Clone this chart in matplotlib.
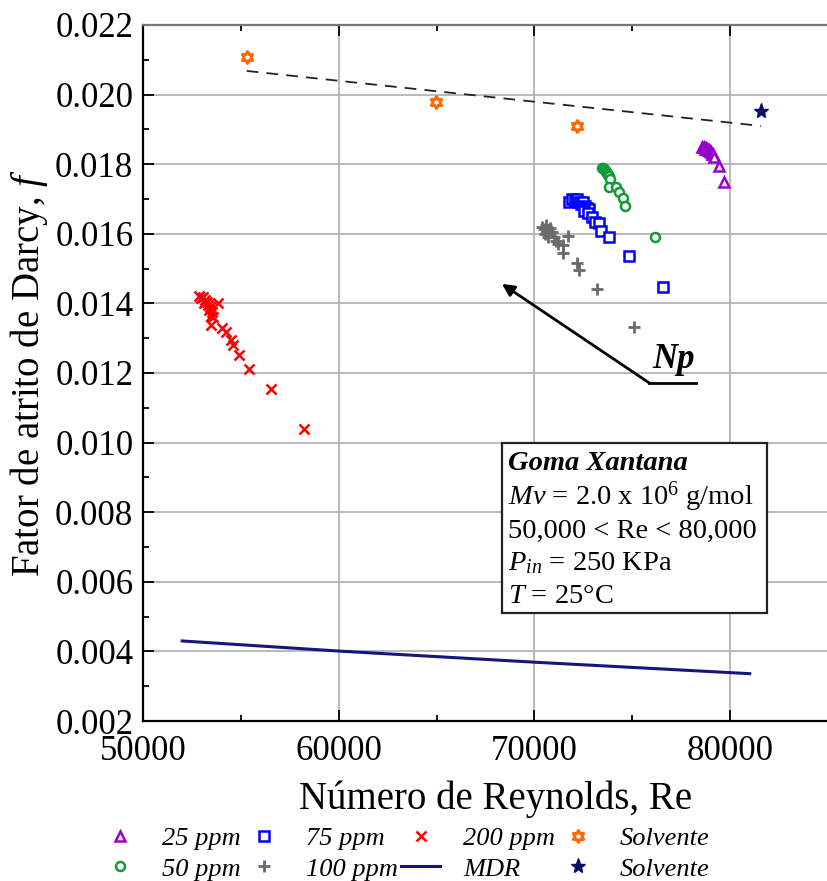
import numpy as np
import matplotlib
matplotlib.use("Agg")
import matplotlib.pyplot as plt
from matplotlib.path import Path
from matplotlib.lines import Line2D
from matplotlib.patches import Rectangle

plt.rcParams['font.family'] = ['Liberation Serif', 'DejaVu Serif']
plt.rcParams['mathtext.fontset'] = 'custom'
plt.rcParams['mathtext.rm'] = 'Liberation Serif'
plt.rcParams['mathtext.it'] = 'Liberation Serif:italic'
plt.rcParams['mathtext.bf'] = 'Liberation Serif:bold'

# ---------------- data ----------------
re_25 = [78550, 78650, 78700, 78750, 78800, 78850, 78900, 78950, 79000, 79050, 79100, 79200, 79450, 79700]
f_25 = [0.01850, 0.01848, 0.01845, 0.01847, 0.01843, 0.01840, 0.01842, 0.01838, 0.01835, 0.01830, 0.01828, 0.01822, 0.01795, 0.01749]

re_50 = [73450, 73500, 73550, 73600, 73650, 73700, 73750, 73800, 73850, 73820, 74170, 74320, 74520, 74620, 76180]
f_50 = [0.01790, 0.01788, 0.01785, 0.01782, 0.01778, 0.01775, 0.01770, 0.01765, 0.01758, 0.01735, 0.01734, 0.01720, 0.01703, 0.01680, 0.01590]

re_75 = [71750, 71900, 72050, 72200, 72300, 72400, 72500, 72600, 72700, 72800, 72550, 72750, 72965, 73116, 73317, 73417, 73819, 74824, 76583]
f_75 = [0.01690, 0.01700, 0.01695, 0.01700, 0.01690, 0.01685, 0.01690, 0.01680, 0.01675, 0.01670, 0.01665, 0.01660, 0.01648, 0.01634, 0.01631, 0.01608, 0.01591, 0.01536, 0.01447]

re_100 = [70400, 70500, 70600, 70700, 70550, 70800, 70900, 71000, 70700, 71100, 71200, 71700, 71450, 71450, 72200, 72300, 73200, 75070]
f_100 = [0.01620, 0.01615, 0.01625, 0.01610, 0.01600, 0.01618, 0.01605, 0.01590, 0.01590, 0.01580, 0.01570, 0.01595, 0.01568, 0.01545, 0.01516, 0.01496, 0.01440, 0.01332]

re_200 = [52850, 52950, 53050, 53150, 53250, 53100, 53300, 53400, 53350, 53500, 53450, 53600, 53819, 53467, 54020, 54221, 54472, 54623, 54925, 55427, 56533, 58241]
f_200 = [0.01420, 0.01415, 0.01418, 0.01410, 0.01405, 0.01400, 0.01395, 0.01390, 0.01380, 0.01375, 0.01365, 0.01360, 0.01401, 0.01338, 0.01329, 0.01318, 0.01295, 0.01280, 0.01252, 0.01211, 0.01154, 0.01039]

re_solv = [55315, 64990, 72160]
f_solv = [0.02108, 0.01978, 0.01910]

re_solv2 = [81570]
f_solv2 = [0.01954]

re_fit = [55300, 81570]
f_fit = [0.02068, 0.01910]

re_mdr = [52000, 60000, 70000, 81000]
f_mdr = [0.00430, 0.00401, 0.00369, 0.00336]

legend_labels = ['25 ppm', '50 ppm', '75 ppm', '100 ppm', '200 ppm', 'MDR', 'Solvente', 'Solvente']

# annotation positions
arrow_corner = (75879, 0.01171)
arrow_tail_end = (78241, 0.01171)
arrow_head = (68342, 0.01456)
np_label_pos = (77100, 0.01240)

# ---------------- figure ----------------
W, H = 828, 881
fig = plt.figure(figsize=(W / 100, H / 100), dpi=100)
axL, axR, axT, axB = 143, 828, 25, 721
ax = fig.add_axes([axL / W, 1 - axB / H, (axR - axL) / W, (axB - axT) / H])

ax.set_xlim(50000, 50000 + (axR - axL) / 19.9 * 1000)
ax.set_ylim(0.002, 0.022)
ax.set_xticks(np.arange(50000, 80001, 10000))
ax.set_xticks(np.arange(50000, 85001, 5000), minor=True)
ax.set_yticks(np.arange(0.002, 0.0221, 0.002))
ax.set_yticks(np.arange(0.002, 0.0221, 0.001), minor=True)
ax.yaxis.set_major_formatter(matplotlib.ticker.FormatStrFormatter('%.3f'))
ax.grid(True, which='major', color='#b4b4b4', lw=1.3)
ax.set_axisbelow(True)
ax.tick_params(which='both', direction='in', top=True, right=False, labelsize=25, width=1.3)
ax.tick_params(which='major', length=8)
ax.tick_params(which='minor', length=4)
ax.tick_params(axis='y', pad=7)
ax.tick_params(axis='x', pad=10)
for s in ['left', 'bottom']:
    ax.spines[s].set_linewidth(1.6)
    ax.spines[s].set_color('black')
ax.spines['top'].set_color('#777777')
ax.spines['top'].set_linewidth(1.6)
ax.spines['right'].set_visible(False)

ax.set_xlabel('Número de Reynolds, Re', fontsize=28)
ax.set_ylabel('Fator de atrito de Darcy, $f$', fontsize=28)
ax.xaxis.set_label_coords(0.514, -0.086)
ax.yaxis.set_label_coords(-0.136, 0.5)

# hexagram marker
ang = np.pi / 2 + np.arange(12) * np.pi / 6
rad = np.where(np.arange(12) % 2 == 0, 1.0, 1 / np.sqrt(3))
verts = np.column_stack([rad * np.cos(ang), rad * np.sin(ang)])
verts = np.vstack([verts, verts[:1]])
hexagram = Path(verts, [Path.MOVETO] + [Path.LINETO] * 11 + [Path.CLOSEPOLY])

c25, c50, c75, c100, c200 = '#9a00cc', '#139a36', '#0000ff', '#6a6a6a', '#ff0000'
corange, cstar, cmdr = '#ff6a00', '#0a0a6a', '#16167a'

ax.plot(re_fit, f_fit, color='#222222', lw=1.3, dashes=(6.5, 4.5), zorder=3)
ax.plot(re_mdr, f_mdr, color=cmdr, lw=2.2, zorder=3)

h25, = ax.plot(re_25, f_25, ls='none', marker='^', ms=6.5, mfc='white', mec=c25, mew=1.8, zorder=4)
h50, = ax.plot(re_50, f_50, ls='none', marker='o', ms=6.5, mfc='white', mec=c50, mew=1.8, zorder=4)
h75, = ax.plot(re_75, f_75, ls='none', marker='s', ms=6.5, mfc='white', mec=c75, mew=1.8, zorder=4)
h100, = ax.plot(re_100, f_100, ls='none', marker='+', ms=9, mec=c100, mew=2.0, zorder=4)
h200, = ax.plot(re_200, f_200, ls='none', marker='x', ms=7.5, mec=c200, mew=1.8, zorder=4)
hsolv, = ax.plot(re_solv, f_solv, ls='none', marker=hexagram, ms=8.5, mfc='white', mec=corange, mew=2.2, zorder=5)
hstar, = ax.plot(re_solv2, f_solv2, ls='none', marker='*', ms=11, mfc=cstar, mec=cstar, zorder=6)
hmdr = Line2D([], [], color=cmdr, lw=2.2)

# arrow and Np label
ax.plot([arrow_corner[0], arrow_tail_end[0]], [arrow_corner[1], arrow_tail_end[1]], color='black', lw=2.0, zorder=5)
ax.annotate('', xy=arrow_head, xytext=arrow_corner,
            arrowprops=dict(arrowstyle='-|>', color='black', lw=2.0, mutation_scale=18, shrinkA=0, shrinkB=0),
            zorder=5)
ax.text(np_label_pos[0], np_label_pos[1], 'Np', fontsize=25, fontweight='bold', fontstyle='italic',
        ha='center', va='center', zorder=6)

# info box
bx0, bx1 = (502 - axL) / (axR - axL), (767 - axL) / (axR - axL)
by0, by1 = (axB - 613) / (axB - axT), (axB - 443) / (axB - axT)
ax.add_patch(Rectangle((bx0, by0), bx1 - bx0, by1 - by0, transform=ax.transAxes,
                       facecolor='white', edgecolor='#222222', lw=1.6, zorder=7))
tx = (508 - axL) / (axR - axL)
lines = [
    ('Goma Xantana', dict(fontweight='bold', fontstyle='italic')),
    ('$Mv$ = 2.0 x 10$^{6}$ g/mol', {}),
    ('50,000 < Re < 80,000', {}),
    ('$P_{in}$ = 250 KPa', {}),
    ('$T$ = 25°C', {}),
]
base_px = [470, 505, 538, 570, 603]
for (txt, kw), bp in zip(lines, base_px):
    ax.text(tx, (axB - bp) / (axB - axT), txt, transform=ax.transAxes, fontsize=20.5,
            ha='left', va='baseline', zorder=8, **kw)

# legend
handles = [h25, h50, h75, h100, h200, hmdr, hsolv, hstar]
leg = fig.legend(handles, legend_labels, ncol=4, loc='upper left',
                 bbox_to_anchor=(100 / W, 1 - 827 / H), frameon=False,
                 prop=dict(family='Liberation Serif', style='italic', size=19),
                 handlelength=1.5, handletextpad=0.85, columnspacing=0.12,
                 labelspacing=0.25, borderpad=0, borderaxespad=0)

fig.savefig('out.png', dpi=100)
